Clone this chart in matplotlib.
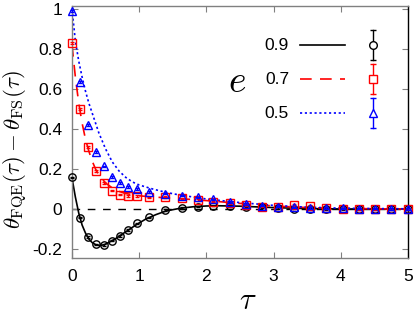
import matplotlib
matplotlib.use("Agg")
import matplotlib.pyplot as plt

plt.rcParams['font.family'] = ['Liberation Sans', 'DejaVu Sans']
plt.rcParams['mathtext.fontset'] = 'cm'

# simulation points (same tau grid for all three e)
tau_sim = [0, 0.12, 0.24, 0.36, 0.47, 0.59, 0.71, 0.84, 0.96, 1.14, 1.39, 1.63, 1.87,
           2.10, 2.35, 2.59, 2.83, 3.07, 3.30, 3.54, 3.78, 4.03, 4.27, 4.51, 4.75, 5.0]
sim_09 = [0.158, -0.043, -0.14, -0.177, -0.18, -0.158, -0.135, -0.105, -0.072, -0.042,
          -0.005, 0.005, 0.012, 0.017, 0.015, 0.012, 0.008, 0.005, 0.002, -0.002,
          0.0, 0.0, 0.0, 0.0, 0.0, 0.0]
sim_07 = [0.83, 0.50, 0.31, 0.19, 0.13, 0.092, 0.072, 0.065, 0.064, 0.058,
          0.06, 0.053, 0.045, 0.037, 0.028, 0.02, 0.012, 0.012, 0.02, 0.017,
          0.005, 0.002, 0.0, 0.0, -0.002, 0.0]
sim_05 = [0.99, 0.635, 0.42, 0.285, 0.213, 0.16, 0.13, 0.11, 0.099, 0.085,
          0.077, 0.067, 0.058, 0.048, 0.035, 0.025, 0.017, 0.012, 0.008, 0.005,
          0.005, 0.003, 0.002, 0.002, 0.001, 0.001]
sim_err = 0.004

# theory curves
tau_09 = [0, 0.05, 0.1, 0.15, 0.2, 0.25, 0.3, 0.35, 0.4, 0.47, 0.55, 0.65, 0.75, 0.85,
          0.95, 1.1, 1.25, 1.4, 1.6, 1.8, 2.0, 2.2, 2.5, 3.0, 3.5, 4.0, 5.0]
th_09 = [0.155, 0.06, -0.02, -0.08, -0.12, -0.15, -0.168, -0.178, -0.182, -0.18,
         -0.167, -0.148, -0.125, -0.103, -0.08, -0.05, -0.028, -0.01, 0.003, 0.011,
         0.015, 0.016, 0.014, 0.007, 0.002, 0.0, 0.0]
tau_07 = [0, 0.05, 0.1, 0.15, 0.2, 0.25, 0.3, 0.35, 0.4, 0.5, 0.6, 0.7, 0.8, 1.0, 1.2,
          1.4, 1.6, 1.8, 2.0, 2.5, 3.0, 3.5, 4.0, 4.5, 5.0]
th_07 = [0.82, 0.66, 0.53, 0.43, 0.35, 0.29, 0.24, 0.20, 0.17, 0.13, 0.105, 0.088,
         0.077, 0.066, 0.06, 0.056, 0.052, 0.047, 0.042, 0.028, 0.015, 0.007, 0.003,
         0.001, 0.0]
tau_05 = [0, 0.05, 0.1, 0.15, 0.2, 0.25, 0.3, 0.35, 0.4, 0.5, 0.6, 0.7, 0.8, 0.9, 1.0,
          1.2, 1.4, 1.6, 1.8, 2.0, 2.5, 3.0, 3.5, 4.0, 4.5, 5.0]
th_05 = [1.0, 0.84, 0.74, 0.66, 0.59, 0.53, 0.48, 0.43, 0.38, 0.30, 0.235, 0.19,
         0.158, 0.135, 0.12, 0.10, 0.083, 0.07, 0.06, 0.05, 0.032, 0.018, 0.009,
         0.004, 0.002, 0.001]

e_labels = ['0.9', '0.7', '0.5']
colors = ['black', 'red', 'blue']
markers = ['o', 's', '^']
styles = ['-', (0, (7, 5)), (0, (1.3, 1.6))]

fig = plt.figure(figsize=(4.15, 3.15), dpi=100)
ax = fig.add_axes([0.1735, 0.181, 0.8095, 0.8])

ax.axhline(0, color='black', lw=1, ls=(0, (5.5, 5.5)), zorder=1)

sims = [sim_09, sim_07, sim_05]
ths = [(tau_09, th_09), (tau_07, th_07), (tau_05, th_05)]
for i in range(3):
    t, y = ths[i]
    ax.plot(t, y, color=colors[i], ls=styles[i], lw=1.2, zorder=2)
for i in range(3):
    ax.errorbar(tau_sim, sims[i], yerr=sim_err, fmt=markers[i], color=colors[i],
                mfc='none', mec=colors[i], ms=5.3, mew=1.0, capsize=1.5, elinewidth=0.8,
                zorder=3 + i, clip_on=False)

# gnuplot style key
rows = [0.845, 0.710, 0.575]
for i in range(3):
    y = rows[i]
    ax.text(0.646, y, e_labels[i], transform=ax.transAxes, ha='right', va='center',
            fontsize=12.5)
    ax.plot([0.679, 0.8125], [y, y], transform=ax.transAxes, color=colors[i],
            ls=styles[i], lw=1.2)
    ax.plot([0.896, 0.896], [y - 0.058, y + 0.058], transform=ax.transAxes,
            color=colors[i], lw=1)
    ax.plot([0.896, 0.896], [y - 0.058, y + 0.058], transform=ax.transAxes,
            color=colors[i], marker='_', ms=5, ls='none', mew=1)
    ax.plot([0.896], [y], transform=ax.transAxes, marker=markers[i], ls='none',
            mfc='white', mec=colors[i], ms=5.5, mew=1)
ax.text(0.491, 0.70, r'$e$', transform=ax.transAxes, ha='center', va='center',
        fontsize=27)

ax.set_xlim(0, 5)
ax.set_ylim(-0.245, 1.015)
ax.set_xticks([0, 1, 2, 3, 4, 5])
ax.set_xticklabels(['0', '1', '2', '3', '4', '5'])
ax.set_yticks([-0.2, 0, 0.2, 0.4, 0.6, 0.8, 1.0])
ax.set_yticklabels(['-0.2', '0', '0.2', '0.4', '0.6', '0.8', '1'])
ax.tick_params(direction='in', length=4, width=0.8, color='#808080', top=True,
               right=True, labelsize=12.5)
ax.tick_params(axis='x', pad=8)
ax.tick_params(axis='y', pad=7)
for s in ['left', 'top', 'bottom']:
    ax.spines[s].set_color('#808080')
ax.spines['right'].set_color('black')
for s in ax.spines.values():
    s.set_linewidth(1.0)

ax.set_xlabel(r'$\tau$', fontsize=22)
ax.xaxis.set_label_coords(0.524, -0.11)
ax.set_ylabel(r'$\theta_{\rm FQE}(\tau) - \theta_{\rm FS}(\tau)$', fontsize=16.5)
ax.yaxis.set_label_coords(-0.125, 0.43)

fig.savefig('out.png', dpi=100)
